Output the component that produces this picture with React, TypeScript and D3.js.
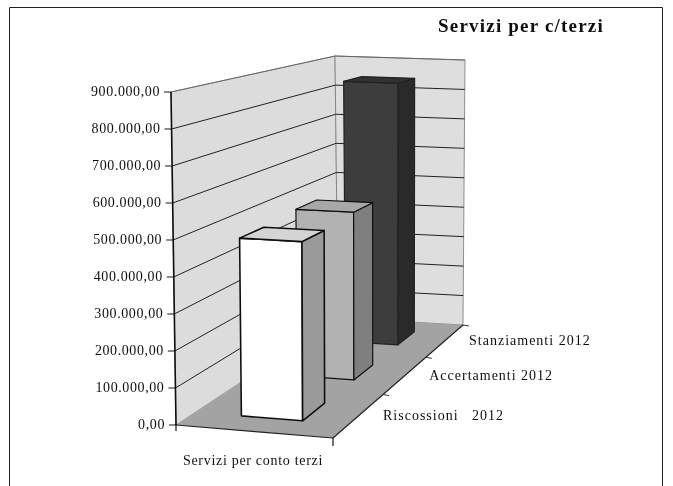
import React from "react";
import * as d3 from "d3";

const title = "Servizi per c/terzi";
const category = "Servizi per conto terzi";
const seriesNames = ["Riscossioni\u00a0\u00a0 2012", "Accertamenti 2012", "Stanziamenti 2012"];
const seriesValues = [490000, 500000, 845000];
const frontColors = ["#ffffff", "#b2b2b2", "#3c3c3c"];
const sideColors = ["#9a9a9a", "#7f7f7f", "#2b2b2b"];
const topColors = ["#d4d4d4", "#a8a8a8", "#333333"];
const valueTicks = d3.range(0, 900001, 100000);
const tickLabels = ["0,00", "100.000,00", "200.000,00", "300.000,00", "400.000,00", "500.000,00", "600.000,00", "700.000,00", "800.000,00", "900.000,00"];

type P = [number, number];
const floor = { fl: [176, 425] as P, fr: [333, 438] as P, bl: [338, 318] as P, br: [463, 325] as P };
const roof = { fl: [171, 92] as P, fr: [333, 98] as P, bl: [335, 56] as P, br: [465, 60] as P };

const valueT = d3.scaleLinear().domain([0, 900000]).range([0, 1]);
const depthBand = d3.scaleBand<string>().domain(seriesNames).range([0, 1]).paddingInner(0.59).paddingOuter(0.295);
const widthU = d3.scaleLinear().domain([0, 1]).range([0, 1]);
const k = 1.25;
const warp = (d: number) => (k * d) / (1 + (k - 1) * d);

const bil = (q: typeof floor, u: number, w: number): P => {
  const m = (a: P, b: P, t: number): P => [a[0] + (b[0] - a[0]) * t, a[1] + (b[1] - a[1]) * t];
  return m(m(q.fl, q.fr, u), m(q.bl, q.br, u), w);
};
const proj = (u: number, d: number, v: number): P => {
  const w = warp(d);
  const b = bil(floor, u, w);
  const t = bil(roof, u, w);
  const f = valueT(v);
  return [b[0] + (t[0] - b[0]) * f, b[1] + (t[1] - b[1]) * f];
};
const line = d3.line<P>();
const closed = (pts: P[]) => line(pts) + "Z";

export default function App() {
  return (
    <svg width={673} height={486} style={{ position: "absolute", left: 0, top: 0, background: "#fff" }} fontFamily="'Liberation Serif', serif">
      <defs>
        <filter id="scan" x="0" y="0" width="1" height="1"><feGaussianBlur stdDeviation="0.4" /></filter>
      </defs>
      <g filter="url(#scan)">
        <path d="M9.5,486V7.5H662.5V486" fill="none" stroke="#222" strokeWidth={1} />
        <text x={521} y={32} textAnchor="middle" fontSize={19} fontWeight="bold" letterSpacing={1.2} fill="#111">{title}</text>

        {/* walls and floor */}
        <path d={closed([proj(0, 0, 0), proj(0, 0, 900000), proj(0, 1, 900000), proj(0, 1, 0)])} fill="#dcdcdc" stroke="#888" strokeWidth={0.7} />
        <path d={closed([proj(0, 1, 0), proj(0, 1, 900000), proj(1, 1, 900000), proj(1, 1, 0)])} fill="#dedede" stroke="#777" strokeWidth={0.8} />
        <path d={closed([proj(0, 0, 0), proj(1, 0, 0), proj(1, 1, 0), proj(0, 1, 0)])} fill="#a3a3a3" />

        {/* gridlines */}
        {valueTicks.slice(1).map((v) => (
          <path key={v} d={line([proj(0, 0, v), proj(0, 1, v), proj(1, 1, v)])!} fill="none" stroke={v === 900000 ? "#666" : "#222"} strokeWidth={1} />
        ))}

        {/* bars, back to front */}
        {seriesNames.map((name, i) => ({ name, i })).reverse().map(({ name, i }) => {
          const v = seriesValues[i];
          const d0 = depthBand(name)!;
          const d1 = d0 + depthBand.bandwidth();
          const u0 = widthU(0.3), u1 = widthU(0.7);
          const stroke = i === 2 ? "#222" : "#111";
          return (
            <g key={name} stroke={stroke} strokeWidth={i === 0 ? 1.6 : 1.2} strokeLinejoin="round">
              <path d={closed([proj(u0, d0, 0), proj(u0, d0, v), proj(u1, d0, v), proj(u1, d0, 0)])} fill={frontColors[i]} />
              <path d={closed([proj(u1, d0, 0), proj(u1, d0, v), proj(u1, d1, v), proj(u1, d1, 0)])} fill={sideColors[i]} />
              <path d={closed([proj(u0, d0, v), proj(u0, d1, v), proj(u1, d1, v), proj(u1, d0, v)])} fill={topColors[i]} />
            </g>
          );
        })}

        {/* axes */}
        <path d={line([proj(0, 0, 900000), proj(0, 0, 0)])!} stroke="#111" strokeWidth={1.6} fill="none" />
        <path d={line([proj(0, 0, 0), proj(1, 0, 0)])!} stroke="#222" strokeWidth={1.2} fill="none" />
        <path d={line([proj(1, 0, 0), proj(1, 1, 0)])!} stroke="#222" strokeWidth={1.2} fill="none" />
        <path d={line([[floor.fl[0], floor.fl[1] - 1], [floor.fl[0], floor.fl[1] + 6]])!} stroke="#111" strokeWidth={1.2} />
        <path d={line([[floor.fr[0], floor.fr[1]], [floor.fr[0], floor.fr[1] + 8]])!} stroke="#111" strokeWidth={1.2} />
        {[1 / 3, 2 / 3, 1].map((d) => {
          const p = proj(1, d, 0);
          return <path key={d} d={line([p, [p[0] + 6, p[1] + 1]])!} stroke="#333" strokeWidth={1} />;
        })}

        {valueTicks.map((v, i) => {
          const p = proj(0, 0, v);
          return (
            <g key={v}>
              <path d={line([[p[0] - 7, p[1]], p])!} stroke="#111" strokeWidth={1} />
              <text x={p[0] - 11} y={p[1] + 3.5} textAnchor="end" fontSize={14} letterSpacing={0.6} fill="#111">{tickLabels[i]}</text>
            </g>
          );
        })}

        <text x={253} y={465} textAnchor="middle" fontSize={14} letterSpacing={0.7} fill="#111">{category}</text>
        {seriesNames.map((name) => {
          const p = proj(1, depthBand(name)! + depthBand.bandwidth() / 2, 0);
          return (
            <text key={name} x={p[0] + 24} y={p[1] + 4.5} fontSize={14} letterSpacing={1} fill="#111">{name}</text>
          );
        })}
      </g>
    </svg>
  );
}
